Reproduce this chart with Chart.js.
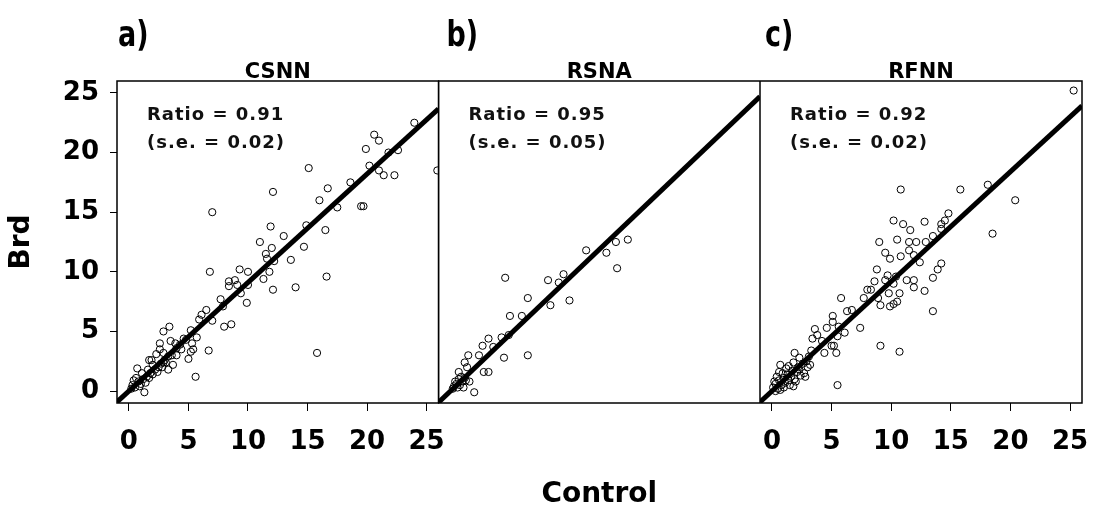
<!DOCTYPE html>
<html>
<head>
<meta charset="utf-8">
<script src="https://cdn.jsdelivr.net/npm/chart.js@4.4.1/dist/chart.umd.min.js"></script>
<style>
  html, body { margin: 0; padding: 0; background: #fff; }
  #wrap { position: relative; width: 1093px; height: 506px; }
  #wrap canvas { position: absolute; top: 0; }
</style>
</head>
<body>
<div id="wrap">
  <canvas id="p1" width="470" height="506" style="left:0px"></canvas>
  <canvas id="p2" width="322" height="506" style="left:438px"></canvas>
  <canvas id="p3" width="333" height="506" style="left:760px"></canvas>
</div>
<script>
// panel labels and fitted ratios (Brd / Control, line through origin)
const panelLetters = ['a)', 'b)', 'c)'];
const panelNames = ['CSNN', 'RSNA', 'RFNN'];
const ratios = [0.91, 0.95, 0.92];
const ratioSE = [0.02, 0.05, 0.02];
const tickValues = [0, 5, 10, 15, 20, 25];
const axisMin = -1;
const axisMax = 26;

// CSNN
const csnnControl = [23.97, 20.6, 21.0, 19.9, 21.8, 22.6, 20.2, 21.0, 21.4, 22.3, 25.9, 15.1, 18.6, 16.7, 12.1, 16.0, 17.5, 19.5, 19.7, 7.0,
  14.9, 11.9, 16.5, 13.0, 11.0, 12.0, 14.7, 11.5, 11.6, 13.6, 12.2, 11.8, 6.8, 9.3, 10.0, 16.6, 11.3, 8.4, 8.9, 8.4,
  9.1, 10.0, 12.1, 14.0, 9.4, 9.9, 7.7, 7.9, 6.5, 6.1, 5.9, 7.0, 8.0, 8.6, 3.4, 2.9, 5.2, 5.7, 4.6, 3.5,
  2.6, 3.9, 5.3, 2.6, 4.4, 5.4, 6.7, 2.3, 2.9, 4.0, 5.2, 15.8, 1.9, 1.7, 5.0, 2.9, 3.7, 3.3, 0.7, 5.6,
  1.3, 0.3, 0.5, 0.8, 1.0, 1.2, 1.5, 1.8, 2.0, 2.2, 0.6, 1.4, 2.5, 3.0, 2.7, 3.3, 1.1, 0.4, 1.7, 2.4,
  3.6, 4.0, 4.3, 0.9, 0.2, 1.6, 2.0, 2.8, 3.1, 4.8];
const csnnBrd = [22.5, 21.5, 21.0, 20.3, 20.0, 20.2, 18.9, 18.5, 18.1, 18.1, 18.5, 18.7, 17.5, 17.0, 16.7, 16.0, 15.4, 15.5, 15.5, 15.0,
  13.9, 13.8, 13.5, 13.0, 12.5, 12.0, 12.1, 11.5, 11.1, 11.0, 10.9, 10.0, 10.0, 10.2, 10.0, 9.6, 9.4, 9.2, 9.3, 8.8,
  8.9, 8.9, 8.5, 8.7, 8.2, 7.4, 7.7, 7.1, 6.8, 6.4, 6.0, 5.9, 5.4, 5.6, 5.4, 5.0, 5.1, 4.5, 4.4, 4.2,
  4.0, 4.0, 4.0, 3.5, 3.5, 3.5, 3.4, 3.1, 3.2, 3.0, 3.3, 3.2, 2.6, 2.6, 2.7, 2.4, 2.2, 1.8, 1.9, 1.2,
  -0.1, 0.5, 0.3, 0.8, 0.6, 1.0, 1.2, 1.5, 1.4, 1.8, 1.1, 0.7, 2.0, 2.6, 2.3, 2.9, 1.5, 0.9, 1.1, 1.6,
  3.0, 3.6, 3.9, 0.4, 0.2, 1.8, 2.2, 2.0, 2.4, 4.3];

// RSNA
const rsnaControl = [14.9, 13.9, 11.4, 13.1, 14.0, 4.6, 8.2, 9.1, 9.5, 6.5, 8.4, 10.0, 5.0, 6.0, 4.3, 4.9, 3.2, 2.7, 3.6, 2.4,
  1.5, 4.5, 6.5, 1.2, 1.4, 0.7, 2.8, 3.2, 2.0, 1.6, 0.3, 0.5, 0.8, 1.0, 0.6, 1.2, 0.4, 0.9, 1.1, 0.2,
  1.3, 0.7];
const rsnaBrd = [12.7, 12.5, 11.8, 11.6, 10.3, 9.5, 9.3, 9.1, 9.8, 7.8, 7.2, 7.6, 6.3, 6.3, 4.5, 4.7, 4.4, 3.8, 3.7, 3.0,
  3.0, 2.8, 3.0, 2.4, 2.0, 1.6, 1.6, 1.6, -0.1, 0.8, 0.4, 0.6, 0.5, 0.8, 0.3, 1.1, 0.8, 1.2, 0.3, 0.2,
  0.9, 1.0];

// RFNN
const rfnnControl = [25.3, 10.8, 15.8, 18.1, 20.4, 18.5, 14.8, 14.5, 14.2, 14.2, 12.8, 10.2, 11.0, 11.6, 10.5, 11.5, 12.1, 12.9, 13.5, 9.0,
  9.5, 9.9, 11.5, 11.9, 10.8, 12.4, 14.2, 13.9, 13.5, 8.8, 9.7, 10.4, 8.6, 9.5, 10.2, 11.3, 11.9, 11.9, 12.8, 8.0,
  8.3, 7.7, 8.9, 9.8, 10.7, 9.1, 9.9, 10.2, 10.5, 13.5, 5.8, 6.3, 6.7, 5.1, 5.1, 4.6, 5.6, 5.5, 6.1, 7.4,
  3.6, 3.4, 3.8, 4.2, 5.0, 5.2, 4.4, 5.4, 9.1, 10.7, 1.9, 2.3, 3.2, 2.8, 5.5, 0.7, 1.8,
  0.1, 0.3, 0.5, 0.6, 0.8, 1.0, 1.1, 1.3, 1.4, 1.6, 1.7, 1.9, 2.1, 2.2, 2.4, 2.6, 0.2, 0.4, 0.9, 1.2,
  1.5, 2.0, 0.7, 1.8, 2.9, 3.1, 0.3, 1.0, 2.3, 2.7, 3.3, 3.0, 0.6, 1.4];
const rfnnBrd = [25.2, 16.9, 16.9, 17.3, 16.0, 13.2, 14.9, 14.3, 14.0, 13.6, 14.2, 14.3, 14.0, 13.5, 12.7, 12.5, 12.5, 12.5, 13.0, 12.5,
  11.6, 11.1, 11.8, 11.4, 11.3, 10.8, 10.7, 10.2, 9.5, 10.2, 9.7, 9.6, 9.2, 9.3, 9.0, 9.3, 9.3, 8.7, 8.4, 8.5,
  8.5, 7.8, 7.8, 8.2, 8.2, 7.2, 7.1, 7.3, 7.5, 6.7, 7.8, 6.7, 6.8, 6.3, 5.8, 5.3, 5.4, 4.6, 4.9, 5.3,
  5.2, 4.4, 4.7, 4.2, 3.8, 3.8, 3.2, 3.2, 3.8, 3.3, 3.2, 2.8, 2.2, 1.2, 0.5, 2.2, 0.4,
  0.3, 0.6, 0.2, 0.9, 0.5, 1.1, 0.7, 1.4, 0.9, 1.2, 1.7, 1.0, 1.6, 2.0, 1.3, 2.3, 0.8, 1.2, 1.5, 1.9,
  0.5, 0.8, 0.1, 2.4, 2.5, 2.9, 0.0, 0.3, 1.8, 1.5, 3.4, 2.0, 1.6, 2.1];

const controls = [csnnControl, rsnaControl, rfnnControl];
const brds = [csnnBrd, rsnaBrd, rfnnBrd];

const FONT = '"DejaVu Sans", "Liberation Sans", sans-serif';

// box around each panel plus the panel letter, strip title and ratio text
const panelDecor = {
  id: 'panelDecor',
  afterDraw(chart, args, opts) {
    const { ctx, chartArea: a } = chart;
    ctx.save();
    ctx.strokeStyle = '#000';
    ctx.lineWidth = 1.5;
    ctx.strokeRect(a.left, a.top, a.right - a.left, a.bottom - a.top);

    ctx.fillStyle = '#000';
    ctx.textBaseline = 'alphabetic';

    // panel letter, drawn a bit taller than wide
    ctx.save();
    ctx.translate(a.left + opts.letterDx, 46);
    ctx.scale(1, 1.3);
    ctx.font = 'bold 27px ' + FONT;
    ctx.textAlign = 'left';
    ctx.fillText(opts.letter, 0, 0);
    ctx.restore();

    ctx.font = 'bold 21px ' + FONT;
    ctx.textAlign = 'center';
    ctx.fillText(opts.name, (a.left + a.right) / 2, 78);

    ctx.fillStyle = '#111';
    ctx.font = 'bold 18px ' + FONT;
    ctx.letterSpacing = '1px';
    ctx.textAlign = 'left';
    ctx.fillText('Ratio = ' + opts.ratio.toFixed(2), a.left + 30, 120);
    ctx.fillText('(s.e. = ' + opts.se.toFixed(2) + ')', a.left + 30, 148);
    ctx.restore();
  }
};

function makePanel(id, i, cfg) {
  const r = ratios[i];
  const points = controls[i].map((x, k) => ({ x: x, y: brds[i][k] }));
  const fitLine = [{ x: axisMin, y: axisMin * r }, { x: axisMax, y: axisMax * r }];

  return new Chart(document.getElementById(id), {
    type: 'scatter',
    data: {
      datasets: [
        {
          type: 'line',
          data: fitLine,
          borderColor: '#000',
          borderWidth: 5,
          pointRadius: 0,
          order: 0
        },
        {
          data: points,
          pointRadius: 3.6,
          pointBorderWidth: 1,
          borderColor: '#000',
          backgroundColor: 'rgba(0,0,0,0)',
          order: 1
        }
      ]
    },
    options: {
      responsive: false,
      animation: false,
      devicePixelRatio: 1,
      layout: {
        autoPadding: false,
        padding: { top: 81, left: cfg.padLeft, right: cfg.padRight, bottom: 0 }
      },
      plugins: {
        legend: { display: false },
        tooltip: { enabled: false },
        panelDecor: {
          letter: panelLetters[i],
          name: panelNames[i],
          ratio: r,
          se: ratioSE[i],
          letterDx: cfg.letterDx
        }
      },
      scales: {
        x: {
          type: 'linear',
          min: axisMin,
          max: axisMax,
          afterBuildTicks: s => { s.ticks = tickValues.map(v => ({ value: v })); },
          // fixed axis height; edge labels may hang outside the panel
          afterFit: s => { s.height = 103; s.paddingLeft = 0; s.paddingRight = 0; },
          border: { display: false },
          grid: {
            display: cfg.xTicks,
            drawOnChartArea: false,
            drawTicks: true,
            tickLength: 8,
            color: '#000',
            lineWidth: 1
          },
          ticks: {
            display: cfg.xTicks,
            color: '#000',
            padding: 16,
            maxRotation: 0,
            font: { family: FONT, weight: 'bold', size: 26 }
          },
          title: {
            display: cfg.xTitle,
            text: 'Control',
            color: '#000',
            padding: { top: 0, bottom: -3 },
            font: { family: FONT, weight: 'bold', size: 28, lineHeight: 1 }
          }
        },
        y: {
          type: 'linear',
          display: cfg.yAxis,
          min: axisMin,
          max: axisMax,
          afterBuildTicks: s => { s.ticks = tickValues.map(v => ({ value: v })); },
          afterFit: s => { s.width = cfg.yAxis ? 117 : 0; s.paddingTop = 0; s.paddingBottom = 0; },
          border: { display: false },
          grid: {
            drawOnChartArea: false,
            drawTicks: true,
            tickLength: 7,
            color: '#000',
            lineWidth: 1
          },
          ticks: {
            color: '#000',
            padding: 11,
            font: { family: FONT, weight: 'bold', size: 26 }
          },
          title: {
            display: true,
            text: 'Brd',
            color: '#000',
            padding: { top: 8, bottom: 0 },
            font: { family: FONT, weight: 'bold', size: 28, lineHeight: 1 }
          }
        }
      }
    },
    plugins: [panelDecor]
  });
}

// first canvas runs past its panel so the last tick label is not cut off
makePanel('p1', 0, { padLeft: 0, padRight: 31.5, xTicks: true, xTitle: false, yAxis: true, letterDx: 1 });
makePanel('p2', 1, { padLeft: 0.5, padRight: 0, xTicks: false, xTitle: true, yAxis: false, letterDx: 8 });
makePanel('p3', 2, { padLeft: 0, padRight: 11, xTicks: true, xTitle: false, yAxis: false, letterDx: 5 });
</script>
</body>
</html>
